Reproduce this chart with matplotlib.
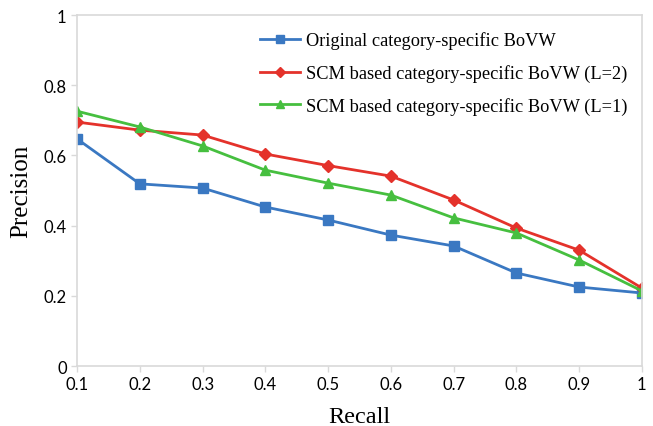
import matplotlib.pyplot as plt

recall = [0.1, 0.2, 0.3, 0.4, 0.5, 0.6, 0.7, 0.8, 0.9, 1.0]
original = [0.647, 0.519, 0.507, 0.453, 0.416, 0.373, 0.342, 0.265, 0.225, 0.208]
scm_l2 = [0.695, 0.672, 0.658, 0.604, 0.571, 0.541, 0.473, 0.393, 0.330, 0.222]
scm_l1 = [0.726, 0.681, 0.627, 0.558, 0.521, 0.487, 0.422, 0.379, 0.302, 0.214]

labels = ["Original category-specific BoVW",
          "SCM based category-specific BoVW (L=2)",
          "SCM based category-specific BoVW (L=1)"]

fig = plt.figure(figsize=(6.53, 4.27), dpi=100)
ax = fig.add_axes([0.118, 0.1405, 0.865, 0.822])

ax.plot(recall, original, color="#3a78c2", marker="s", markersize=7, linewidth=2, label=labels[0])
ax.plot(recall, scm_l2, color="#e4322b", marker="D", markersize=6, linewidth=2, label=labels[1])
ax.plot(recall, scm_l1, color="#46bf3f", marker="^", markersize=7.5, linewidth=2, label=labels[2])

ax.set_xlim(0.1, 1.0)
ax.set_ylim(0, 1.0)
ax.set_xticks(recall)
ax.set_xticklabels(["0.1", "0.2", "0.3", "0.4", "0.5", "0.6", "0.7", "0.8", "0.9", "1"])
ax.set_yticks([0, 0.2, 0.4, 0.6, 0.8, 1.0])
ax.set_yticklabels(["0", "0.2", "0.4", "0.6", "0.8", "1"])

for s in ax.spines.values():
    s.set_color("#d9d9d9")
    s.set_linewidth(1.2)
ax.tick_params(axis="both", colors="#d9d9d9", labelcolor="black", labelsize=12, length=4, width=1)
for t in ax.get_xticklabels() + ax.get_yticklabels():
    t.set_family("Lato")

ax.set_xlabel("Recall", family="Liberation Serif", fontsize=17.5, labelpad=10)
ax.set_ylabel("Precision", family="Liberation Serif", fontsize=18, labelpad=8)

leg = ax.legend(loc="upper left", bbox_to_anchor=(0.294, 1.0), frameon=False,
                prop={"family": "Liberation Serif", "size": 13.25},
                handlelength=2.2, handletextpad=0.3, labelspacing=0.8,
                markerscale=0.85)

fig.savefig("out.png")
